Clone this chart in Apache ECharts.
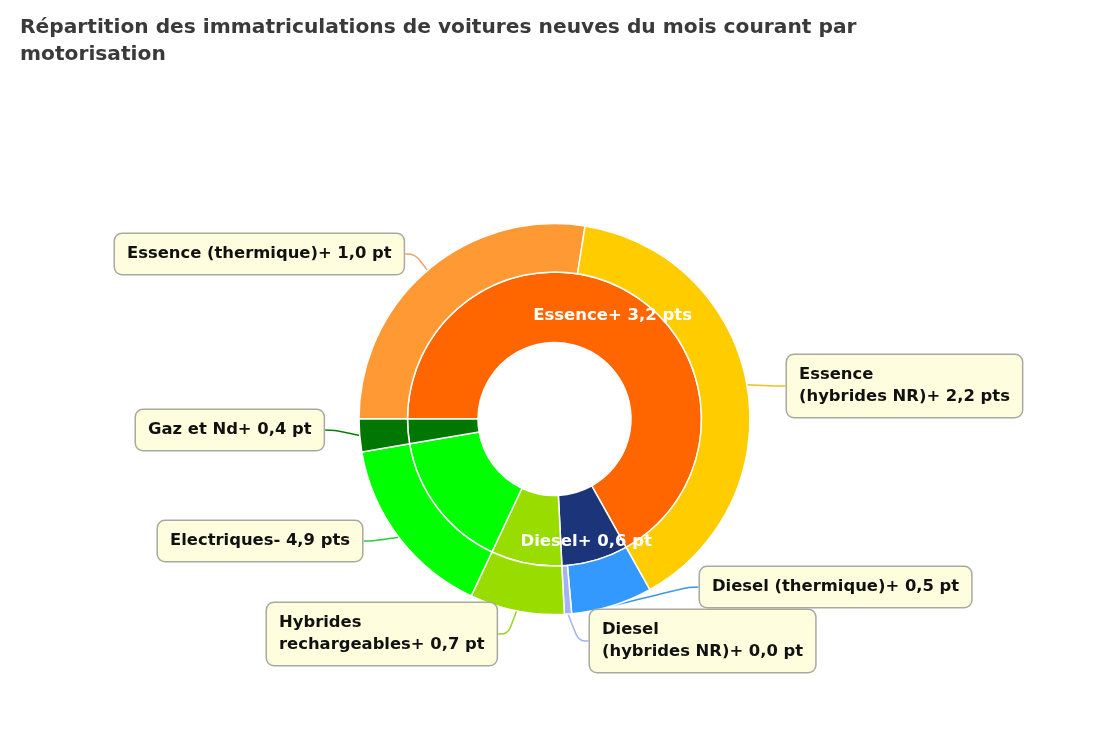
<!DOCTYPE html>
<html>
<head>
<meta charset="utf-8">
<script src="https://cdn.jsdelivr.net/npm/echarts@6/dist/echarts.min.js"></script>
<style>
html,body{margin:0;padding:0;background:#fff;}
#chart{width:1110px;height:740px;}
</style>
</head>
<body>
<div id="chart"></div>
<script>
// ---- Data ----
const titleText = 'Répartition des immatriculations de voitures neuves du mois courant par motorisation';
const innerCategories = ['Essence', 'Diesel', 'Hybrides rechargeables', 'Electriques', 'Gaz et Nd'];
const innerValues = [66.9, 7.3, 7.8, 15.3, 2.7];
const innerChanges = ['+ 3,2 pts', '+ 0,6 pt', '', '', ''];
const outerCategories = ['Essence (thermique)', 'Essence (hybrides NR)', 'Diesel (thermique)', 'Diesel (hybrides NR)', 'Hybrides rechargeables', 'Electriques', 'Gaz et Nd'];
const outerValues = [27.5, 39.4, 6.7, 0.6, 7.8, 15.3, 2.7];
const outerChanges = ['+ 1,0 pt', '+ 2,2 pts', '+ 0,5 pt', '+ 0,0 pt', '+ 0,7 pt', '- 4,9 pts', '+ 0,4 pt'];

// ---- Styles / layout ----
const innerColors = ['#FF6600', '#1C347A', '#99DD00', '#00FF00', '#007700'];
const outerColors = ['#FF9933', '#FFCC00', '#3399FF', '#A3B4F2', '#99DD00', '#00FF00', '#007700'];
const lineColors = ['#E8A46A', '#F2C21A', '#3D94E8', '#A3B4F2', '#99D420', '#2ECC40', '#0B7A0B'];
const wrapped = ['Essence (hybrides NR)', 'Diesel (hybrides NR)', 'Hybrides rechargeables'];
// label box anchor (left x, vertical middle y) for outer labels
const outerLabelPos = [[115, 254], [787, 386], [700, 587], [590, 641], [267, 634], [158, 541], [136, 430]];

const center = [554.5, 419];

const chart = echarts.init(document.getElementById('chart'), null, {renderer: 'canvas'});

const innerData = innerCategories.map((n, i) => ({
  name: n, value: innerValues[i],
  itemStyle: {color: innerColors[i]},
  label: {show: innerChanges[i] !== ''}
}));
const outerData = outerCategories.map((n, i) => ({
  name: n, value: outerValues[i],
  itemStyle: {color: outerColors[i]},
  labelLine: {lineStyle: {color: lineColors[i]}}
}));

const option = {
  backgroundColor: '#ffffff',
  animation: false,
  title: {
    text: titleText,
    left: 15, top: 9,
    textStyle: {
      fontFamily: 'DejaVu Sans',
      fontWeight: 'bold', fontSize: 20.2, color: '#3a3a3a',
      width: 870, overflow: 'break', lineHeight: 27
    }
  },
  series: [
    {
      type: 'pie',
      center: center,
      radius: [76.5, 147],
      startAngle: 180,
      clockwise: true,
      avoidLabelOverlap: false,
      itemStyle: {borderColor: '#ffffff', borderWidth: 1.5},
      label: {
        position: 'inside',
        formatter: p => p.name + innerChanges[p.dataIndex],
        color: '#ffffff',
        fontFamily: 'DejaVu Sans',
        fontWeight: 'bold',
        fontSize: 16.5
      },
      labelLayout: p => (p.dataIndex === 1 ? {dy: 12} : {dy: -4}),
      emphasis: {disabled: true},
      data: innerData
    },
    {
      type: 'pie',
      center: center,
      radius: [147, 195.5],
      startAngle: 180,
      clockwise: true,
      avoidLabelOverlap: false,
      itemStyle: {borderColor: '#ffffff', borderWidth: 1.5},
      label: {
        show: true,
        position: 'outside',
        formatter: p => {
          let n = p.name;
          if (wrapped.indexOf(n) >= 0) n = n.replace(' ', '\n');
          return n + outerChanges[p.dataIndex];
        },
        color: '#111111',
        fontFamily: 'DejaVu Sans',
        fontWeight: 'bold',
        fontSize: 16.4,
        lineHeight: 22,
        backgroundColor: '#FEFDDD',
        borderColor: '#A9A9A0',
        borderWidth: 1.5,
        borderRadius: 7,
        padding: [9, 12, 9, 12]
      },
      labelLine: {show: true, smooth: 0.4, length: 20, length2: 10, lineStyle: {width: 1.5}},
      labelLayout: p => {
        const pos = outerLabelPos[p.dataIndex];
        return {x: pos[0], y: pos[1], align: 'left', verticalAlign: 'middle'};
      },
      emphasis: {disabled: true},
      data: outerData
    }
  ]
};
chart.setOption(option);
</script>
</body>
</html>
